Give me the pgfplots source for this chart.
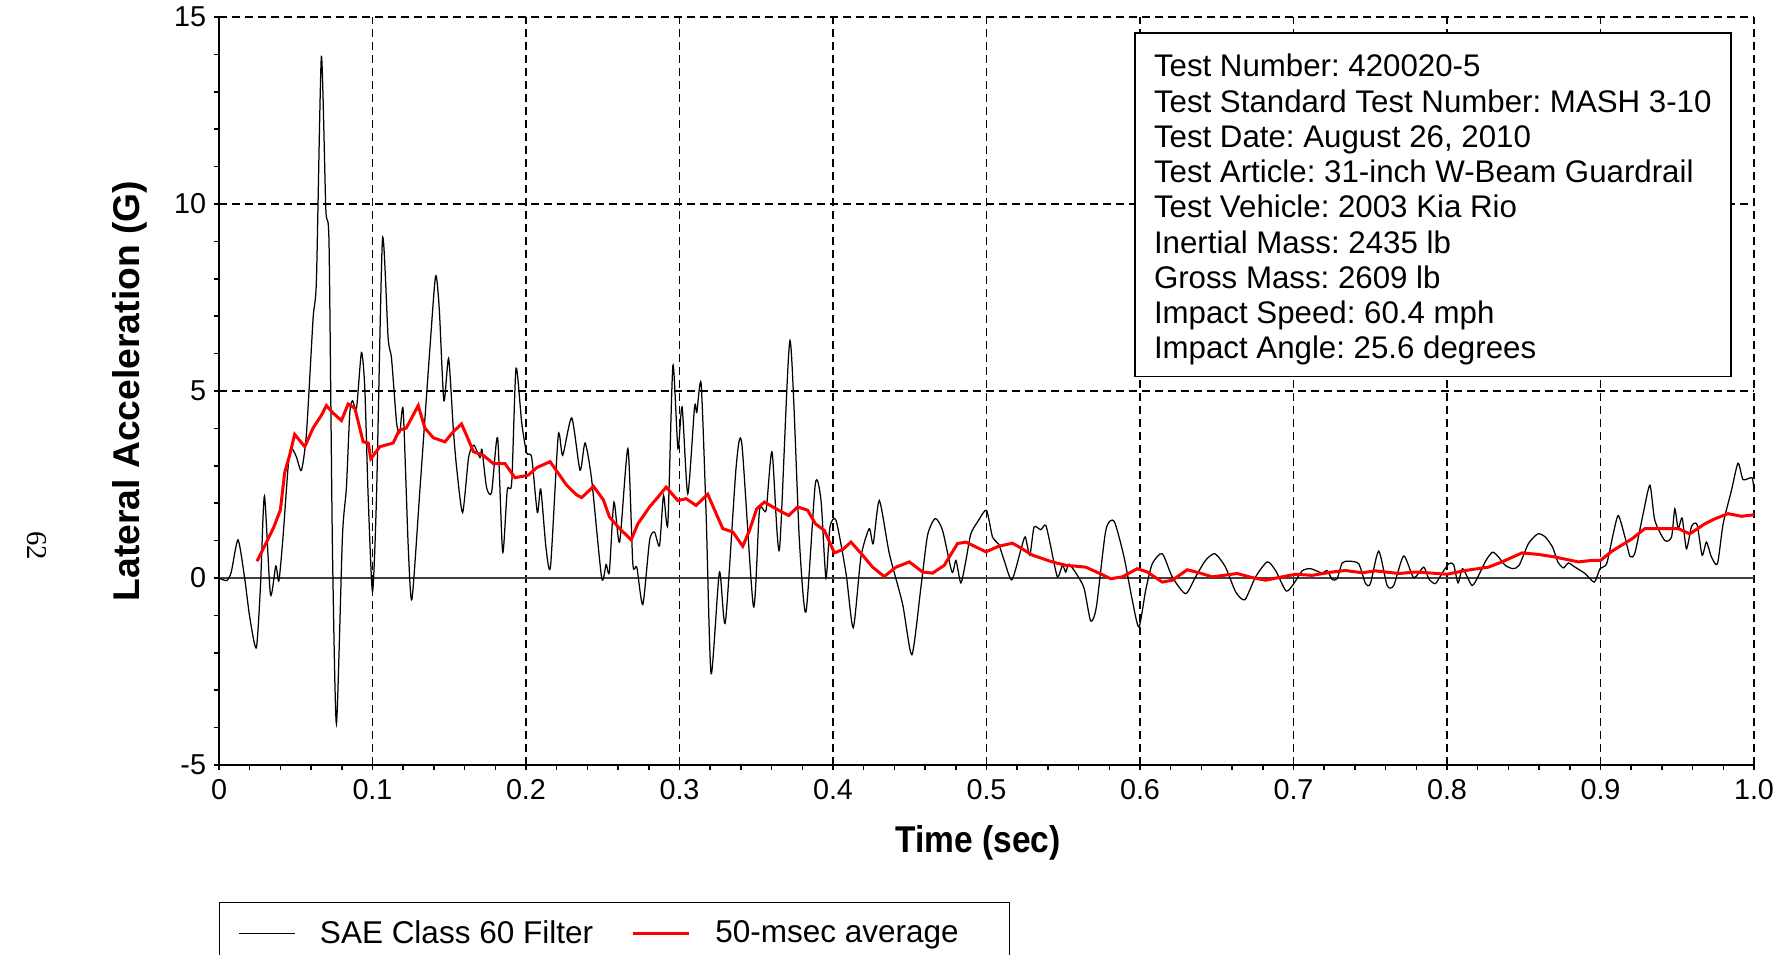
\documentclass[border=0pt]{standalone}
\usepackage{fontspec}
\setmainfont{Liberation Sans}
\newfontfamily\narrowfont[FakeStretch=0.9]{Liberation Sans}
\newfontfamily\pagefont{Liberation Serif}
\usepackage{pgfplots}
\pgfplotsset{compat=1.18}
\frenchspacing

% filtered signal (SAE class 60)
\pgfplotstableread{
t g
0 0
0.005 -0.07
0.008 0.16
0.0124 1.02
0.0167 0.0
0.02 -1.04
0.0243 -1.87
0.027 -0.24
0.0296 2.19
0.0335 -0.44
0.037 0.32
0.039 -0.08
0.0417 1.09
0.045 2.95
0.047 3.48
0.0504 3.24
0.0537 2.88
0.057 3.88
0.0613 6.94
0.0635 8.0
0.0667 13.94
0.0696 9.86
0.0717 8.93
0.0739 0.82
0.0765 -3.9
0.0804 1.09
0.083 2.42
0.0852 4.41
0.087 4.74
0.0896 4.54
0.0928 6.03
0.095 5.07
0.0972 2.15
0.1 -0.37
0.1026 2.15
0.1065 9.06
0.1102 6.41
0.1124 5.87
0.1157 4.15
0.1178 3.88
0.12 4.48
0.1233 0.82
0.1257 -0.57
0.131 2.42
0.1374 6.14
0.1411 8.07
0.1435 7.2
0.1465 4.74
0.1496 5.87
0.1526 4.01
0.1548 2.95
0.1587 1.75
0.1626 3.22
0.166 3.55
0.17 3.22
0.1713 3.44
0.1743 2.42
0.1776 2.29
0.1815 3.75
0.1848 0.69
0.1878 2.35
0.1907 2.55
0.1935 5.61
0.1972 4.15
0.2004 3.35
0.2037 3.22
0.2074 1.75
0.2096 2.38
0.213 0.82
0.216 0.32
0.221 3.81
0.2239 3.28
0.2298 4.28
0.2352 2.88
0.2385 3.61
0.2428 2.62
0.2493 0.0
0.2522 0.36
0.2543 0.16
0.2573 2.03
0.261 0.96
0.2664 3.46
0.2696 0.38
0.2722 0.29
0.2761 -0.71
0.2805 1.0
0.2837 1.23
0.287 0.87
0.2896 2.21
0.2924 1.45
0.2957 5.68
0.299 3.46
0.3017 4.57
0.3054 2.25
0.3098 4.57
0.3113 4.43
0.3141 5.19
0.3174 1.63
0.3206 -2.56
0.326 0.16
0.3299 -1.18
0.3369 2.97
0.3406 3.59
0.3482 -0.77
0.3521 1.81
0.3564 1.81
0.3603 3.37
0.3651 0.76
0.372 6.35
0.3781 1.0
0.3824 -0.91
0.3885 2.52
0.3922 2.07
0.3954 0.0
0.398 1.36
0.402 1.54
0.4085 0.12
0.4132 -1.33
0.4182 0.56
0.4236 1.32
0.4262 0.92
0.4302 2.07
0.4367 0.65
0.4453 -0.69
0.4514 -2.05
0.4573 -0.24
0.4616 1.14
0.4666 1.59
0.4714 1.27
0.4775 0.16
0.4801 0.47
0.4833 -0.13
0.4866 0.47
0.4898 1.18
0.4948 1.54
0.5 1.81
0.5039 1.1
0.508 0.9
0.5115 0.47
0.5165 -0.05
0.5223 0.74
0.5252 1.1
0.5282 0.61
0.531 1.36
0.5353 1.29
0.5386 1.41
0.5419 0.83
0.5462 0.03
0.5495 0.34
0.5516 0.16
0.5538 0.37
0.5592 0.07
0.5636 -0.28
0.5679 -1.15
0.5716 -0.77
0.5777 1.27
0.5831 1.52
0.5896 0.56
0.595 -0.6
0.5993 -1.31
0.6037 -0.33
0.608 0.38
0.6145 0.65
0.621 0.03
0.6297 -0.42
0.6362 0.03
0.6427 0.47
0.6488 0.65
0.6557 0.29
0.6623 -0.37
0.6683 -0.58
0.6753 0.03
0.6829 0.43
0.6883 0.2
0.6952 -0.35
0.7002 -0.15
0.7056 0.19
0.7111 0.25
0.7187 0.13
0.7219 0.2
0.7252 -0.04
0.7284 -0.02
0.7317 0.4
0.736 0.45
0.7425 0.38
0.7469 -0.15
0.7501 -0.15
0.7555 0.72
0.761 -0.2
0.7653 -0.2
0.7718 0.59
0.7783 0.01
0.7848 0.29
0.7881 -0.02
0.7924 -0.15
0.7967 0.12
0.8011 0.38
0.8043 0.36
0.8072 -0.13
0.8102 0.25
0.8163 -0.2
0.8206 0.07
0.8254 0.47
0.8297 0.69
0.8336 0.56
0.8379 0.34
0.8429 0.25
0.847 0.34
0.8531 0.92
0.8592 1.18
0.8639 1.1
0.8687 0.83
0.8722 0.43
0.8758 0.27
0.8791 0.4
0.8834 0.29
0.8899 0.12
0.896 -0.11
0.8997 0.25
0.904 0.38
0.9083 1.18
0.9116 1.67
0.9159 1.1
0.9192 0.58
0.9224 0.67
0.9278 1.72
0.9322 2.48
0.9354 1.54
0.9419 1.0
0.9463 1.1
0.9484 1.85
0.9506 1.32
0.9532 1.6
0.956 0.78
0.9593 1.38
0.9629 1.43
0.9662 0.61
0.969 0.96
0.9723 0.56
0.9762 0.38
0.9799 1.45
0.9853 2.34
0.9896 3.07
0.9929 2.63
0.9987 2.68
1.0 2.34
}\rawdata

% 50 ms moving average
\pgfplotstableread{
t g
0.0248 0.45
0.031 0.96
0.0357 1.36
0.04 1.82
0.0428 2.82
0.046 3.28
0.0493 3.84
0.0559 3.51
0.0613 4.01
0.0667 4.35
0.07 4.61
0.0743 4.41
0.0798 4.21
0.0841 4.65
0.0885 4.54
0.0917 4.01
0.0939 3.64
0.0972 3.61
0.0989 3.19
0.1048 3.51
0.1135 3.61
0.1174 3.95
0.122 4.01
0.1298 4.61
0.1341 4.01
0.1396 3.75
0.1472 3.64
0.1526 3.91
0.158 4.12
0.1613 3.81
0.1657 3.38
0.1722 3.28
0.1787 3.06
0.1863 3.06
0.1928 2.68
0.2015 2.75
0.207 2.95
0.2157 3.11
0.2265 2.48
0.233 2.22
0.2363 2.15
0.244 2.45
0.2504 2.09
0.2544 1.63
0.261 1.32
0.2685 1.02
0.2729 1.45
0.2805 1.9
0.2859 2.16
0.2913 2.43
0.2989 2.07
0.3043 2.12
0.3108 1.94
0.3184 2.24
0.3239 1.72
0.3282 1.32
0.3347 1.23
0.3412 0.85
0.3456 1.27
0.3503 1.85
0.3553 2.03
0.3629 1.85
0.3711 1.67
0.377 1.9
0.3835 1.81
0.3885 1.45
0.3944 1.27
0.4009 0.67
0.4063 0.76
0.4117 0.96
0.4193 0.61
0.4258 0.29
0.4334 0.04
0.441 0.29
0.4497 0.43
0.4584 0.16
0.4649 0.13
0.4725 0.34
0.4811 0.92
0.4866 0.96
0.4996 0.7
0.508 0.85
0.5169 0.93
0.5212 0.83
0.5299 0.61
0.5429 0.43
0.5516 0.34
0.5646 0.29
0.5733 0.13
0.5809 -0.02
0.5885 0.03
0.5983 0.25
0.6048 0.16
0.6145 -0.11
0.621 -0.06
0.6308 0.22
0.6384 0.14
0.6471 0.03
0.6633 0.12
0.6731 0.01
0.6818 -0.06
0.6926 0.03
0.7013 0.1
0.7121 0.07
0.7252 0.16
0.7338 0.2
0.7447 0.14
0.7534 0.19
0.7685 0.12
0.7794 0.16
0.7902 0.13
0.8 0.1
0.8119 0.2
0.827 0.29
0.8358 0.43
0.8488 0.67
0.8596 0.63
0.8704 0.56
0.8856 0.43
0.8943 0.47
0.9 0.47
0.9076 0.72
0.9206 1.05
0.9289 1.32
0.9419 1.32
0.9506 1.32
0.9582 1.18
0.968 1.45
0.9744 1.58
0.9831 1.72
0.9918 1.65
1.0 1.69
}\avgdata

\begin{document}
\begin{tikzpicture}
% page frame: 1790 x 955 px at 0.4pt per px
\path[use as bounding box] (-87.6pt,-76pt) rectangle (628.4pt,306pt);
\begin{axis}[
    at={(0,0)}, anchor=south west,
    scale only axis,
    width=614pt, height=299.2pt,
    xmin=0, xmax=1, ymin=-5, ymax=15,
    axis lines*=left,
    axis line style={line width=0.8pt},
    xtick={0,0.1,...,1.0},
    xticklabels={0,0.1,0.2,0.3,0.4,0.5,0.6,0.7,0.8,0.9,1.0},
    ytick={-5,0,5,10,15},
    yticklabels={-5,0,5,10,15},
    minor x tick num=4,
    minor y tick num=4,
    tick align=outside,
    major tick length=2pt, minor tick length=2pt,
    tick style={black, line width=0.6pt},
    xmajorgrids, ymajorgrids,
    major grid style={black, line width=0.5pt, dash pattern=on 3.2pt off 2pt},
    ticklabel style={font=\fontsize{11.5}{12}\selectfont, inner sep=0pt},
    yticklabel style={xshift=-3pt},
    xticklabel style={yshift=-3.5pt},
    xlabel={\narrowfont\bfseries Time (sec)},
    ylabel={\bfseries Lateral Acceleration (G)},
    label style={font=\fontsize{14.9}{16}\selectfont},
    xlabel style={at={(axis description cs:0.4945,0)}, anchor=center, yshift=-31.2pt},
    ylabel style={at={([xshift=-35.5pt]axis description cs:0,0.5)}, anchor=center},
    legend columns=2,
    legend cell align=left,
    legend image code/.code={\draw[#1] (0pt,0pt) -- (22.4pt,0pt);},
    legend style={at={(0,0)}, anchor=north west, yshift=-54.8pt,
        draw=black, line width=0.6pt,
        font=\fontsize{12.6}{14}\selectfont,
        inner xsep=7.4pt, inner ysep=3pt,
        column sep=9.8pt,
        nodes={inner xsep=0pt, inner ysep=4pt},
        /tikz/every even column/.append style={column sep=15.5pt}},
]
\draw[color=black!75, line width=0.6pt] (axis cs:0,0) -- (axis cs:1,0);
\addplot[black, line width=0.5pt, smooth, tension=0.4] table[x=t, y=g] {\rawdata};
\addlegendentry{SAE Class 60 Filter}
\addplot[red, line width=1.2pt] table[x=t, y=g] {\avgdata};
\addlegendentry{50-msec average\hspace*{13pt}}
\end{axis}
\node[draw=black, fill=white, line width=0.6pt, anchor=north west,
      minimum width=238.4pt, minimum height=137.4pt] (box) at (366pt,293.1pt) {};
\node[anchor=north west, align=left, inner sep=0pt,
      font=\fontsize{12.5}{14.1}\selectfont]
  at ([xshift=7.8pt,yshift=-8.6pt]box.north west) {Test Number: 420020-5\\
Test Standard Test Number: MASH 3-10\\
Test Date: August 26, 2010\\
Test Article: 31-inch W-Beam Guardrail\\
Test Vehicle: 2003 Kia Rio\\
Inertial Mass: 2435 lb\\
Gross Mass: 2609 lb\\
Impact Speed: 60.4 mph\\
Impact Angle: 25.6 degrees};
\node[rotate=-90, font=\pagefont\fontsize{11.5}{12}\selectfont] at (-73pt,87.6pt) {62};
\end{tikzpicture}
\end{document}
